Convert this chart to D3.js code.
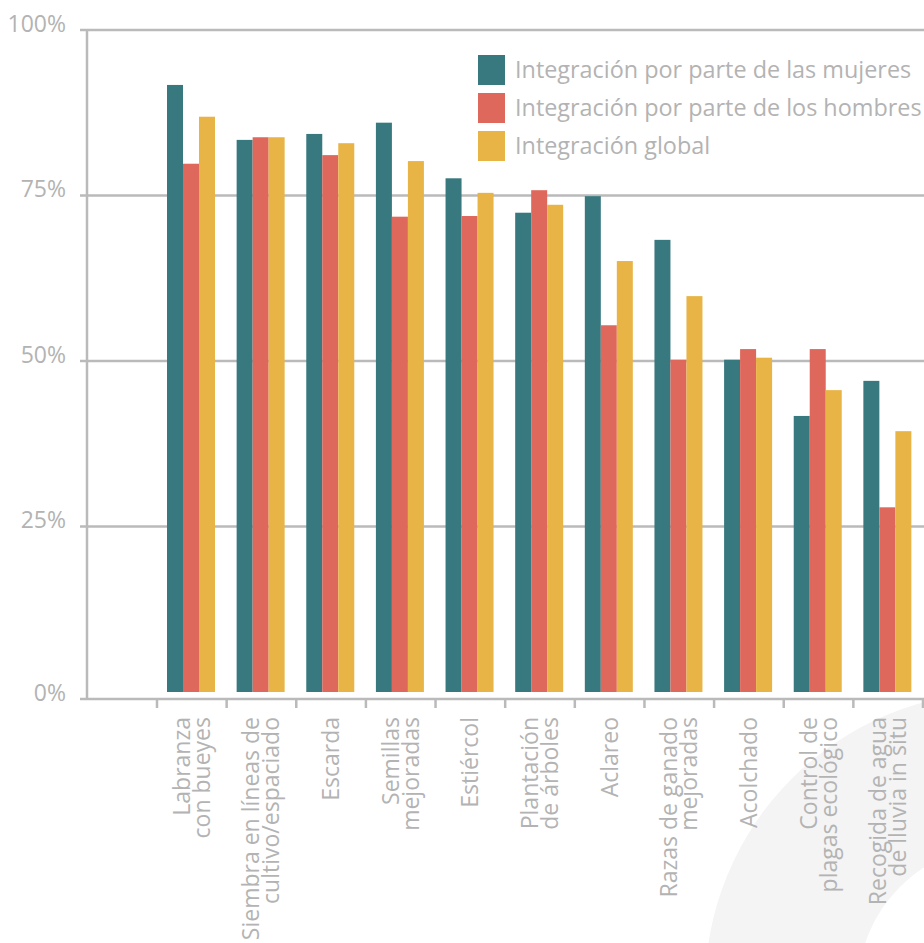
<!DOCTYPE html>
<html>
<head>
<meta charset="utf-8">
<script src="https://cdn.jsdelivr.net/npm/d3@7"></script>
<style>
  html, body { margin: 0; padding: 0; background: #fff; }
  svg { display: block; }
  text { font-family: "Open Sans", sans-serif; fill: #b3b3b3; }
</style>
</head>
<body>
<svg id="chart" width="924" height="943"></svg>
<script>
const categories = [
  "Labranza\ncon bueyes",
  "Siembra en líneas de\ncultivo/espaciado",
  "Escarda",
  "Semillas\nmejoradas",
  "Estiércol",
  "Plantación\nde árboles",
  "Aclareo",
  "Razas de ganado\nmejoradas",
  "Acolchado",
  "Control de\nplagas ecológico",
  "Recogida de agua\nde lluvia in situ"
];
const seriesNames = [
  "Integración por parte de las mujeres",
  "Integración por parte de los hombres",
  "Integración global"
];
const mujeres = [91.7, 83.4, 84.3, 86.0, 77.6, 72.4, 74.9, 68.3, 50.2, 41.7, 47.0];
const hombres = [79.8, 83.8, 81.1, 71.8, 71.9, 75.8, 55.4, 50.2, 51.8, 51.8, 27.9];
const globalVals = [86.9, 83.8, 82.9, 80.2, 75.4, 73.6, 65.1, 59.8, 50.5, 45.6, 39.4];
const yTicks = [0, 25, 50, 75, 100];
const yTickLabels = ["0%", "25%", "50%", "75%", "100%"];

const colors = ["#387980", "#de685c", "#e8b446"];
const seriesValues = [mujeres, hombres, globalVals];

const W = 924, H = 943;
const svg = d3.select("#chart");

// decorative background ring
svg.append("path")
  .attr("transform", "translate(1001,988)")
  .attr("d", d3.arc()({innerRadius: 143, outerRadius: 296, startAngle: 0, endAngle: 2 * Math.PI}))
  .attr("fill", "#f4f4f4");

const axisX = 87, baseY = 692, axisLineY = 699;
const x = d3.scaleBand().domain(categories).range([157, 923]);
const x1 = d3.scaleBand().domain(seriesNames).range([10, 58]);
const y = d3.scaleLinear().domain([0, 100]).range([baseY, 30]);

const gridColor = "#bababa";

// gridlines (25..100)
svg.append("g").selectAll("line")
  .data(yTicks.filter(d => d > 0))
  .join("line")
  .attr("x1", axisX - 7).attr("x2", W)
  .attr("y1", d => y(d)).attr("y2", d => y(d))
  .attr("stroke", gridColor).attr("stroke-width", 2.5);

// y labels
svg.append("g").selectAll("text")
  .data(yTicks)
  .join("text")
  .attr("x", 66)
  .attr("y", d => (d === 0 ? axisLineY : y(d)) + 1.5)
  .attr("text-anchor", "end")
  .attr("font-size", 23)
  .text((d, i) => yTickLabels[i]);

// bars
const groups = svg.append("g").selectAll("g")
  .data(categories)
  .join("g")
  .attr("transform", d => `translate(${x(d)},0)`);

groups.selectAll("rect")
  .data((c, ci) => seriesNames.map((s, si) => ({s, si, v: seriesValues[si][ci]})))
  .join("rect")
  .attr("x", d => x1(d.s))
  .attr("width", x1.bandwidth())
  .attr("y", d => y(d.v))
  .attr("height", d => y(0) - y(d.v))
  .attr("fill", d => colors[d.si]);

// left axis line
svg.append("line")
  .attr("x1", axisX).attr("x2", axisX)
  .attr("y1", y(100) - 1).attr("y2", axisLineY + 1)
  .attr("stroke", gridColor).attr("stroke-width", 2.5);

// bottom axis line
svg.append("line")
  .attr("x1", axisX - 7).attr("x2", W)
  .attr("y1", axisLineY).attr("y2", axisLineY)
  .attr("stroke", gridColor).attr("stroke-width", 2.5);

// x ticks at band boundaries
const boundaries = categories.map(c => x(c)).concat([x.range()[1]]);
svg.append("g").selectAll("line")
  .data(boundaries)
  .join("line")
  .attr("x1", d => d).attr("x2", d => d)
  .attr("y1", axisLineY).attr("y2", axisLineY + 9)
  .attr("stroke", gridColor).attr("stroke-width", 2.5);

// x labels (rotated)
const lh = 20;
svg.append("g").selectAll("text")
  .data(categories)
  .join("text")
  .attr("transform", d => `translate(${x(d) + x.bandwidth() / 2},717) rotate(-90)`)
  .attr("text-anchor", "end")
  .attr("font-size", 23)
  .each(function(d) {
    const lines = d.split("\n");
    const n = lines.length;
    d3.select(this).selectAll("tspan")
      .data(lines)
      .join("tspan")
      .attr("x", 0)
      .attr("y", (l, i) => (i - (n - 1) / 2) * lh + 8)
      .text(l => l);
  });

// legend
const legend = svg.append("g").attr("transform", "translate(478,55)");
const li = legend.selectAll("g")
  .data(seriesNames)
  .join("g")
  .attr("transform", (d, i) => `translate(0,${i * 38})`);
li.append("rect").attr("width", 27).attr("height", 30).attr("fill", (d, i) => colors[i]);
li.append("text").attr("x", 37).attr("y", 23).attr("font-size", 23.4).text(d => d);
</script>
</body>
</html>
